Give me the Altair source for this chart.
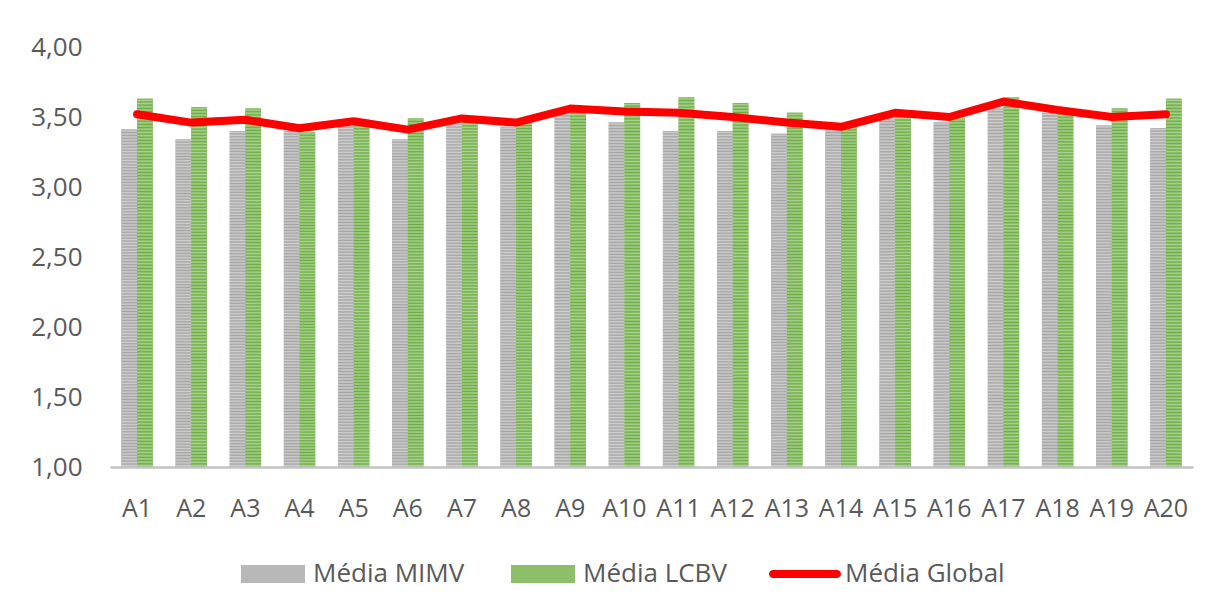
import altair as alt
import pandas as pd

# ---------------- data ----------------
categories = ["A1", "A2", "A3", "A4", "A5", "A6", "A7", "A8", "A9", "A10",
              "A11", "A12", "A13", "A14", "A15", "A16", "A17", "A18", "A19", "A20"]
media_mimv = [3.41, 3.34, 3.40, 3.40, 3.45, 3.34, 3.45, 3.43, 3.53, 3.46,
              3.40, 3.40, 3.38, 3.41, 3.49, 3.46, 3.56, 3.53, 3.44, 3.42]
media_lcbv = [3.63, 3.57, 3.56, 3.39, 3.48, 3.49, 3.48, 3.46, 3.55, 3.60,
              3.64, 3.60, 3.53, 3.43, 3.50, 3.49, 3.64, 3.52, 3.56, 3.63]
media_global = [3.52, 3.46, 3.48, 3.42, 3.47, 3.41, 3.49, 3.46, 3.56, 3.54,
                3.53, 3.50, 3.46, 3.43, 3.53, 3.50, 3.61, 3.55, 3.50, 3.52]
series = ["Média MIMV", "Média LCBV", "Média Global"]
y_ticks = [1.0, 1.5, 2.0, 2.5, 3.0, 3.5, 4.0]

bars_df = pd.DataFrame({
    "cat": categories * 2,
    "serie": [series[0]] * len(categories) + [series[1]] * len(categories),
    "val": media_mimv + media_lcbv,
})
line_df = pd.DataFrame({"cat": categories, "serie": series[2], "val": media_global})

# ---------------- style ----------------
FONT = "Open Sans"
TXT = "#595959"
GRAY_A, GRAY_B = "#a4a4a4", "#cfcfcf"
GREEN_A, GREEN_B = "#6cab44", "#acd391"
solid_colors = ["#b8b8b8", "#8cbf68", "#ff0000"]


def stripes(c1, c2, n=115):
    # soft (triangle-wave) horizontal stripes to avoid aliasing
    stops = []
    for i in range(2 * n + 1):
        stops.append(alt.GradientStop(color=c1 if i % 2 == 0 else c2, offset=i / (2 * n)))
    return alt.LinearGradient(gradient="linear", stops=stops, x1=0, x2=0, y1=0, y2=1)


rect_path = "M-0.889,-0.25H0.889V0.25H-0.889Z"
line_path = ("M-0.889,-0.111H0.889A0.111,0.111 0 0 1 0.889,0.111"
             "H-0.889A0.111,0.111 0 0 1 -0.889,-0.111Z")
sym_expr = f"datum.value === 'Média Global' ? '{line_path}' : '{rect_path}'"

x_enc = alt.X(
    "cat:N", sort=categories, title=None,
    scale=alt.Scale(domain=categories, paddingInner=0.42, paddingOuter=0.21),
    axis=alt.Axis(labelFont=FONT, labelFontSize=25, labelColor=TXT, labelAngle=0,
                  ticks=False, tickSize=0, domainColor="#c3c3c3", domainWidth=2.5,
                  labelPadding=49, labelBaseline="alphabetic", grid=False, zindex=1),
)
y_enc = alt.Y(
    "val:Q", title=None,
    scale=alt.Scale(domain=[1, 4], nice=False, zero=False),
    axis=alt.Axis(values=y_ticks, labelExpr="replace(format(datum.value, '.2f'), '.', ',')",
                  domain=False, ticks=False, tickSize=0, grid=False, labelFont=FONT,
                  labelFontSize=26, labelColor=TXT, labelPadding=28,
                  labelBaseline="alphabetic", labelOffset=8.5),
)
xoff = alt.XOffset("serie:N", scale=alt.Scale(domain=series[:2], paddingInner=0, paddingOuter=0))

legend = alt.Legend(
    title=None, orient="none", legendX=127, legendY=491, direction="horizontal",
    symbolType={"expr": sym_expr}, symbolSize=5184, symbolStrokeWidth=0,
    labelFont=FONT, labelFontSize=26, labelColor=TXT, labelOffset=4, labelLimit=400,
    columnPadding=42, padding=0, rowPadding=0,
)

base_bars = alt.Chart(bars_df).mark_bar().encode(
    x=x_enc, y=y_enc, y2=alt.datum(1), xOffset=xoff,
    color=alt.Color("serie:N", scale=alt.Scale(domain=series, range=solid_colors), legend=legend),
)

stripe_gray = alt.Chart(bars_df).transform_filter(
    alt.datum.serie == series[0]
).mark_bar(color=stripes(GRAY_A, GRAY_B)).encode(x=x_enc, y=y_enc, y2=alt.datum(1), xOffset=xoff)

stripe_green = alt.Chart(bars_df).transform_filter(
    alt.datum.serie == series[1]
).mark_bar(color=stripes(GREEN_A, GREEN_B)).encode(x=x_enc, y=y_enc, y2=alt.datum(1), xOffset=xoff)

line = alt.Chart(line_df).mark_line(
    color="#ff0000", strokeWidth=8, strokeCap="round", strokeJoin="round"
).encode(x=x_enc, y=y_enc)

chart = alt.layer(base_bars, stripe_gray, stripe_green, line).properties(
    width=1083, height=420,
    autosize=alt.AutoSizeParams(type="none"),
    padding={"left": 102, "top": 39, "right": 19, "bottom": 138},
    background="white",
).configure_view(stroke=None)

chart.save("out.html", embed_options={"renderer": "svg", "actions": False})
